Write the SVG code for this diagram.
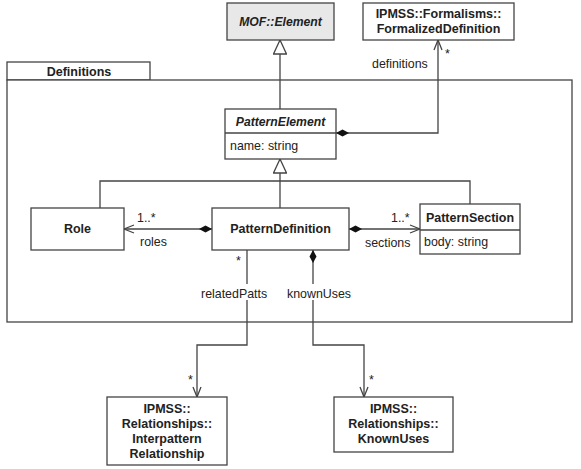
<svg xmlns="http://www.w3.org/2000/svg" width="581" height="469" viewBox="0 0 581 469">
<defs>
<style>
.box{fill:#fff;stroke:#444;stroke-width:1.3}
.ln{fill:none;stroke:#444;stroke-width:1.3}
text{font-family:"Liberation Sans",Arial,sans-serif;fill:#222;font-size:12.4px}
.b{font-weight:bold;font-size:12.5px}
.bi{font-weight:bold;font-style:italic;font-size:12.2px}
.c{text-anchor:middle}
</style>
<marker id="open" viewBox="0 0 12 10" refX="11" refY="5" markerWidth="12" markerHeight="10" markerUnits="userSpaceOnUse" orient="auto">
<path d="M1,1 L11,5 L1,9" fill="none" stroke="#444" stroke-width="1.3"/>
</marker>
<marker id="dia" viewBox="0 0 13 8" refX="0" refY="4" markerWidth="13" markerHeight="8" markerUnits="userSpaceOnUse" orient="auto">
<path d="M0,4 L6.5,0.5 L13,4 L6.5,7.5 Z" fill="#111"/>
</marker>
<marker id="gen" viewBox="0 0 16 14" refX="15" refY="7" markerWidth="16" markerHeight="14" markerUnits="userSpaceOnUse" orient="auto">
<path d="M15,7 L1,0.5 L1,13.5 Z" fill="#fff" stroke="#444" stroke-width="1.3"/>
</marker>
</defs>

<g id="package-definitions">
<rect class="box" x="7" y="62" width="143" height="18"/>
<rect class="box" x="7" y="80" width="565" height="242" fill="none"/>
<text class="b c" x="79" y="76">Definitions</text>
</g>

<g id="connectors">
<path class="ln" d="M280,110 V40" marker-end="url(#gen)"/>
<path class="ln" d="M280,208 V159" marker-end="url(#gen)"/>
<path class="ln" d="M100,208 V181 H470 V204"/>
<path class="ln" d="M336,133 H438 V40" marker-start="url(#dia)" marker-end="url(#open)"/>
<path class="ln" d="M212,229 H124" marker-start="url(#dia)" marker-end="url(#open)"/>
<path class="ln" d="M349,229 H420" marker-start="url(#dia)" marker-end="url(#open)"/>
<path class="ln" d="M247,250 V284"/>
<path class="ln" d="M247,300 V345 H197 V397" marker-end="url(#open)"/>
<path class="ln" d="M313,250 V284" marker-start="url(#dia)"/>
<path class="ln" d="M313,300 V345 H364 V397" marker-end="url(#open)"/>
<text x="445" y="58">*</text>
<text x="372" y="68">definitions</text>
<text x="137" y="222">1..*</text>
<text x="140" y="246">roles</text>
<text x="391" y="222">1..*</text>
<text x="365" y="247">sections</text>
<text x="236" y="265">*</text>
<text x="201" y="298">relatedPatts</text>
<text x="287" y="298">knownUses</text>
<text x="188" y="384">*</text>
<text x="369" y="384">*</text>
</g>

<g id="mof-element">
<rect class="box" x="227" y="3" width="107" height="37" style="fill:#e8e8e8"/>
<text class="bi c" x="280.5" y="26">MOF::Element</text>
</g>

<g id="formalized-definition">
<rect class="box" x="363" y="3" width="151" height="37"/>
<text class="b c" x="438.5" y="18">IPMSS::Formalisms::</text>
<text class="b c" x="438.5" y="33">FormalizedDefinition</text>
</g>

<g id="pattern-element">
<rect class="box" x="225" y="109" width="111" height="50"/>
<line class="ln" x1="225" y1="133" x2="336" y2="133"/>
<text class="bi c" x="280.5" y="126">PatternElement</text>
<text x="230" y="150">name: string</text>
</g>

<g id="role">
<rect class="box" x="31" y="208" width="93" height="42"/>
<text class="b c" x="77.5" y="233">Role</text>
</g>

<g id="pattern-definition">
<rect class="box" x="212" y="208" width="137" height="42"/>
<text class="b c" x="280.5" y="233">PatternDefinition</text>
</g>

<g id="pattern-section">
<rect class="box" x="420" y="204" width="100" height="50"/>
<line class="ln" x1="420" y1="230" x2="520" y2="230"/>
<text class="b c" x="470" y="222">PatternSection</text>
<text x="424" y="246">body: string</text>
</g>

<g id="interpattern-relationship">
<rect class="box" x="107" y="397" width="120" height="68"/>
<text class="b c" x="167" y="413">IPMSS::</text>
<text class="b c" x="167" y="428">Relationships::</text>
<text class="b c" x="167" y="443">Interpattern</text>
<text class="b c" x="167" y="458">Relationship</text>
</g>

<g id="known-uses">
<rect class="box" x="334" y="397" width="119" height="55"/>
<text class="b c" x="393.5" y="413">IPMSS::</text>
<text class="b c" x="393.5" y="428">Relationships::</text>
<text class="b c" x="393.5" y="443">KnownUses</text>
</g>
</svg>
